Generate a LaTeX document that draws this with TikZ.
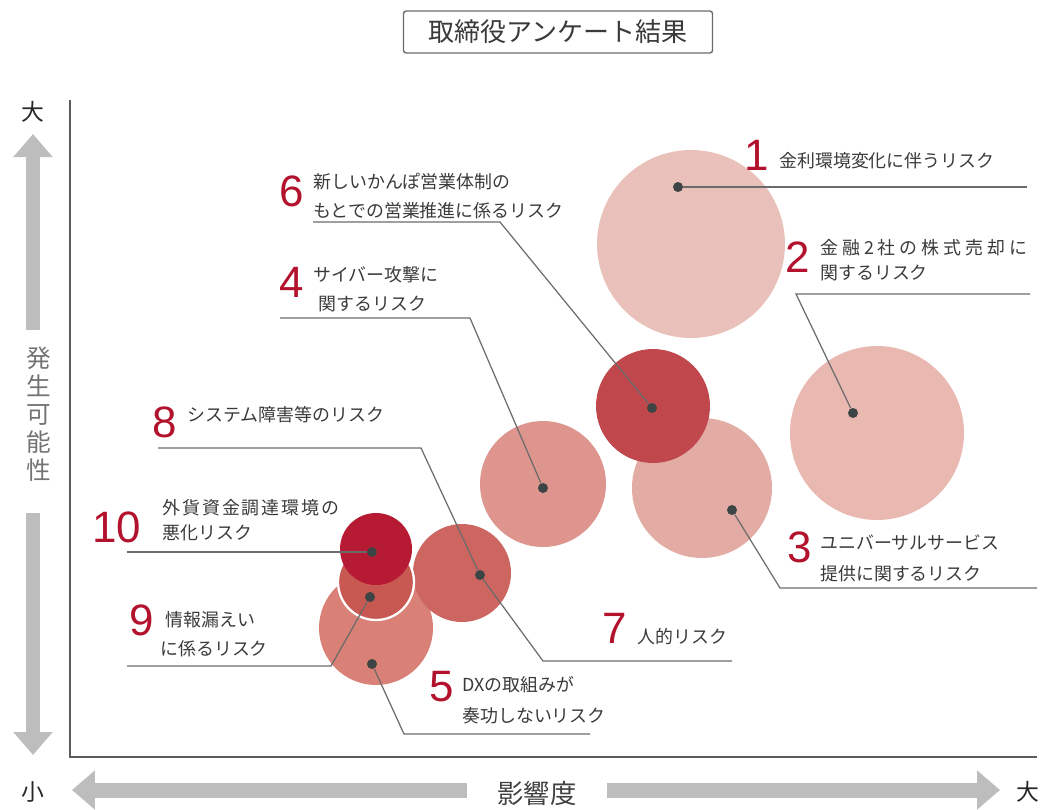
\documentclass[tikz,border=0pt]{standalone}
\usepackage{fontspec}
\setmainfont{Noto Sans CJK JP}
\newfontfamily\numfont{Liberation Sans}
\usepackage{tikz}
\usetikzlibrary{arrows.meta}

\definecolor{riskred}{HTML}{B3122D}
\definecolor{txtgray}{HTML}{3A3A3A}
\definecolor{linegray}{HTML}{6B6B6B}
\definecolor{dotgray}{HTML}{3C4446}
\definecolor{arrowgray}{HTML}{BDBDBD}
\definecolor{bubA}{HTML}{E9C1BA}
\definecolor{bubB}{HTML}{E8B8B1}
\definecolor{bubC}{HTML}{E2ACA4}
\definecolor{bubD}{HTML}{DD958D}
\definecolor{bubE}{HTML}{D98077}
\definecolor{bubF}{HTML}{C0474C}
\definecolor{bubG}{HTML}{CD6660}
\definecolor{bubH}{HTML}{C85852}
\definecolor{bubI}{HTML}{B71A33}

\tikzset{
  bubble/.style={circle,inner sep=0pt,draw=none},
  riskdot/.style={circle,fill=dotgray,inner sep=0pt,minimum size=0.2cm},
  leader/.style={draw=linegray,line width=0.7pt},
  num/.style={text=riskred,inner sep=0pt,font=\numfont\fontsize{25}{25}\selectfont},
  risk/.style={anchor=west,text=txtgray,align=left,inner sep=0pt,font=\fontsize{10.2}{16.5}\selectfont},
  bigarrow/.style={draw=arrowgray,line width=0.3cm,-{Triangle[length=0.46cm,width=0.76cm]}},
}

\begin{document}
\begin{tikzpicture}[x=0.02cm,y=-0.02cm]
\useasboundingbox (0,0) rectangle (1041,809);

\node (title) at (558,32)[draw=linegray,line width=0.8pt,rounded corners=1.5pt,minimum width=6.18cm,minimum height=0.84cm,text=txtgray,font=\fontsize{14.8}{16}\selectfont]{取締役アンケート結果\hspace{10pt}};

\draw[draw=linegray!85!black,line width=0.85pt] (70,100) -- (70,757) -- (1037,757);

\draw[bigarrow] (33,330) -- (33,134);
\draw[bigarrow] (33,513) -- (33,755);
\draw[bigarrow] (467,790) -- (72,790);
\draw[bigarrow] (607,790) -- (1000,790);
\node (ytop) at (33,112)[text=black!85,font=\fontsize{13}{13}\selectfont]{大};
\node (ybot) at (33,792)[text=black!85,font=\fontsize{13}{13}\selectfont]{小};
\node (xend) at (1028,792)[text=black!85,font=\fontsize{13}{13}\selectfont]{大};
\node (xlab) at (537,793)[text=black!75,font=\fontsize{15}{15}\selectfont]{影響度};
\node (ylab) at (39,414)[text=black!55,align=center,font=\fontsize{14}{16}\selectfont]{発\\生\\可\\能\\性};

\node (c1) at (691,244)[bubble,minimum size=3.76cm,fill=bubA]{};
\node (c2) at (877,433)[bubble,minimum size=3.48cm,fill=bubB]{};
\node (c3) at (702,488)[bubble,minimum size=2.80cm,fill=bubC]{};
\node (c6) at (653,406)[bubble,minimum size=2.28cm,fill=bubF]{};
\node (c4) at (543,484)[bubble,minimum size=2.52cm,fill=bubD]{};
\node (c5) at (376,628)[bubble,minimum size=2.28cm,fill=bubE]{};
\node (c78) at (462,573)[bubble,minimum size=1.96cm,fill=bubG]{};
\node (c9) at (376,582)[bubble,minimum size=1.52cm,fill=bubH,draw=white,line width=1.3pt]{};
\node (c10) at (376,549)[bubble,minimum size=1.44cm,fill=bubI]{};

\node (d1) at (678,187)[riskdot]{};
\node (d2) at (853,413)[riskdot]{};
\node (d3) at (732,510)[riskdot]{};
\node (d4) at (543,488)[riskdot]{};
\node (d5) at (372,664)[riskdot]{};
\node (d6) at (652,408)[riskdot]{};
\node (d78) at (480,575)[riskdot]{};
\node (d9) at (370,597)[riskdot]{};
\node (d10) at (372,552)[riskdot]{};

\coordinate (e1) at (1027,187);
\coordinate (b2) at (796,294);
\coordinate (e2) at (1030,294);
\coordinate (b3) at (780,588);
\coordinate (e3) at (1037,588);
\coordinate (b4) at (470,318);
\coordinate (e4) at (280,318);
\coordinate (b5) at (404,734);
\coordinate (e5) at (590,734);
\coordinate (b6) at (500,222);
\coordinate (e6) at (313,222);
\coordinate (b7) at (543,661);
\coordinate (e7) at (732,661);
\coordinate (b8) at (421,448);
\coordinate (e8) at (158,448);
\coordinate (b9) at (331,666);
\coordinate (e9) at (127,666);
\coordinate (e10) at (127,552);

\draw[leader] (d1) -- (e1);
\draw[leader] (d2) -- (b2) -- (e2);
\draw[leader] (d3) -- (b3) -- (e3);
\draw[leader] (d4) -- (b4) -- (e4);
\draw[leader] (d5) -- (b5) -- (e5);
\draw[leader] (d6) -- (b6) -- (e6);
\draw[leader] (d78) -- (b7) -- (e7);
\draw[leader] (d78) -- (b8) -- (e8);
\draw[leader] (d9) -- (b9) -- (e9);
\draw[leader] (d10) -- (e10);

\node (n1) at (757,155)[num]{1};
\node (t1) at (779,161)[risk]{金利環境変化に伴うリスク};
\node (n2) at (798,257)[num]{2};
\node (t2) at (820,260)[risk]{{\addfontfeature{LetterSpace=22}金融2社の株式売却に}\\[-2pt]関するリスク};
\node (n3) at (800,547)[num]{3};
\node (t3) at (820,558)[risk]{ユニバーサルサービス\\[1pt]提供に関するリスク};
\node (n4) at (292,282)[num]{4};
\node (t4) at (313,289)[risk]{サイバー攻撃に\\\hspace{3pt}関するリスク};
\node (n5) at (442,687)[num]{5};
\node (t5) at (462,700)[risk]{DXの取組みが\\[1pt]奏功しないリスク};
\node (n6) at (292,191)[num]{6};
\node (t6) at (313,196)[risk]{新しいかんぽ営業体制の\\もとでの営業推進に係るリスク};
\node (n7) at (615,628)[num]{7};
\node (t7) at (637,637)[risk]{人的リスク};
\node (n8) at (165,422)[num]{8};
\node (t8) at (187,415)[risk]{システム障害等のリスク};
\node (n9) at (142,620)[num]{9};
\node (t9) at (160,634)[risk]{\hspace{3pt}情報漏えい\\に係るリスク};
\node (n10) at (117,527)[num]{10};
\node (t10) at (162,520)[risk]{{\addfontfeature{LetterSpace=11}外貨資金調達環境の}\\[-2pt]悪化リスク};
\end{tikzpicture}
\end{document}
